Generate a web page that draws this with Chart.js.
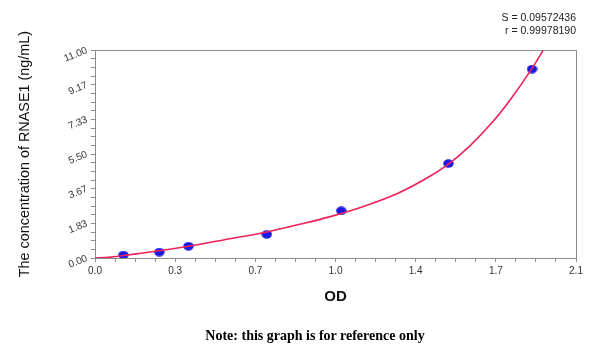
<!DOCTYPE html>
<html>
<head>
<meta charset="utf-8">
<script src="https://cdn.jsdelivr.net/npm/chart.js@4/dist/chart.umd.min.js"></script>
<style>
  html, body { margin: 0; padding: 0; background: #fff; }
  #wrap { position: relative; width: 600px; height: 351px; }
  #note {
    position: absolute; left: 0; top: 328px; width: 630px;
    text-align: center; line-height: 16px;
    font: bold 14px 'Liberation Serif', 'Times New Roman', serif; color: #000;
  }
</style>
</head>
<body>
<div id="wrap">
  <canvas id="stdCurve" width="600" height="351"></canvas>
  <div id="note">Note: this graph is for reference only</div>
</div>
<script>
// standards (OD vs concentration)
const odValues = [0.124, 0.281, 0.408, 0.750, 1.075, 1.543, 1.908];
const concValues = [0.156, 0.313, 0.625, 1.25, 2.5, 5, 10];

// fitted curve
const fitOD = [0, 0.06, 0.124, 0.2, 0.281, 0.408, 0.55, 0.75, 0.9, 1.027, 1.172, 1.318, 1.464, 1.543, 1.638, 1.740, 1.813, 1.908, 1.957];
const fitConc = [0, 0.04, 0.13, 0.25, 0.38, 0.62, 0.93, 1.38, 1.80, 2.19, 2.73, 3.40, 4.34, 4.97, 5.95, 7.26, 8.38, 10.04, 11.0];

// axis ticks
const xTickValues = [0, 0.35, 0.7, 1.05, 1.4, 1.75, 2.1];
const xTickLabels = ['0.0', '0.3', '0.7', '1.0', '1.4', '1.7', '2.1'];
const yTickValues = [0, 11 / 6, 22 / 6, 5.5, 44 / 6, 55 / 6, 11];
const yTickLabels = ['0.00', '1.83', '3.67', '5.50', '7.33', '9.17', '11.00'];

const fitText = ['S = 0.09572436', 'r = 0.99978190'];

const FONT = "'Liberation Sans', Arial, sans-serif";
const AXIS_GREY = '#8c8c8c';

// majors plus 3 minor marks between each pair
function withMinor(majors, parts) {
  const out = [];
  for (let i = 0; i < majors.length; i++) {
    out.push(majors[i]);
    if (i < majors.length - 1) {
      const step = (majors[i + 1] - majors[i]) / parts;
      for (let k = 1; k < parts; k++) out.push(majors[i] + step * k);
    }
  }
  return out;
}

function labelFor(values, labels, v) {
  const i = values.findIndex(m => Math.abs(m - v) < 1e-6);
  return i >= 0 ? labels[i] : '';
}

// slightly flattened blue dot
const dot = document.createElement('canvas');
dot.width = 11; dot.height = 9;
(() => {
  const c = dot.getContext('2d');
  c.fillStyle = '#1a1ae6';
  c.beginPath();
  c.ellipse(5.5, 4.5, 5.2, 4.2, 0, 0, Math.PI * 2);
  c.fill();
})();

const frame = {
  id: 'frame',
  beforeDatasetsDraw(chart) {
    const { ctx, chartArea: a } = chart;
    ctx.save();
    ctx.strokeStyle = AXIS_GREY;
    ctx.lineWidth = 1;
    ctx.strokeRect(Math.round(a.left) + 0.5, Math.round(a.top) + 0.5, Math.round(a.right - a.left), Math.round(a.bottom - a.top));
    ctx.restore();
  }
};

new Chart(document.getElementById('stdCurve'), {
  type: 'scatter',
  data: {
    datasets: [
      {
        label: 'fit',
        data: fitOD.map((x, i) => ({ x, y: fitConc[i] })),
        showLine: true,
        borderColor: '#f0205a',
        borderWidth: 1.6,
        pointRadius: 0,
        cubicInterpolationMode: 'monotone',
        order: 1
      },
      {
        label: 'standards',
        data: odValues.map((x, i) => ({ x, y: concValues[i] })),
        pointStyle: dot,
        pointRadius: 5,
        order: 2
      }
    ]
  },
  plugins: [frame],
  options: {
    responsive: false,
    animation: false,
    layout: { padding: { left: 0, right: 24, top: 0, bottom: 0 } },
    plugins: {
      legend: { display: false },
      tooltip: { enabled: false },
      title: {
        display: true,
        text: fitText,
        align: 'end',
        color: '#222',
        font: { family: FONT, size: 10.5, weight: 'normal' },
        padding: { top: 12, bottom: 13 }
      }
    },
    scales: {
      x: {
        type: 'linear',
        min: 0, max: 2.1,
        afterFit: s => { s.height = 93; },
        afterBuildTicks: s => { s.ticks = withMinor(xTickValues, 4).map(v => ({ value: v })); },
        border: { color: AXIS_GREY },
        grid: { drawOnChartArea: false, tickLength: 4, color: AXIS_GREY },
        ticks: {
          autoSkip: false, maxRotation: 0, padding: 3,
          color: '#333', font: { family: FONT, size: 10 },
          callback: v => labelFor(xTickValues, xTickLabels, v)
        },
        title: {
          display: true, text: 'OD', color: '#111',
          font: { family: FONT, size: 15, weight: 'bold' },
          padding: { top: 0, bottom: 45 }
        }
      },
      y: {
        type: 'linear',
        min: 0, max: 11,
        afterFit: s => { s.width = 95; },
        afterBuildTicks: s => { s.ticks = withMinor(yTickValues, 4).map(v => ({ value: v })); },
        border: { color: AXIS_GREY },
        grid: { drawOnChartArea: false, tickLength: 4, color: AXIS_GREY },
        ticks: {
          autoSkip: false, minRotation: 22, maxRotation: 22, padding: 4,
          color: '#333', font: { family: FONT, size: 10 },
          callback: v => labelFor(yTickValues, yTickLabels, v)
        },
        title: {
          display: true, text: 'The concentration of RNASE1 (ng/mL)', color: '#111',
          font: { family: FONT, size: 14.4, weight: 'normal' },
          padding: { top: 16, bottom: 0 }
        }
      }
    }
  }
});
</script>
</body>
</html>
